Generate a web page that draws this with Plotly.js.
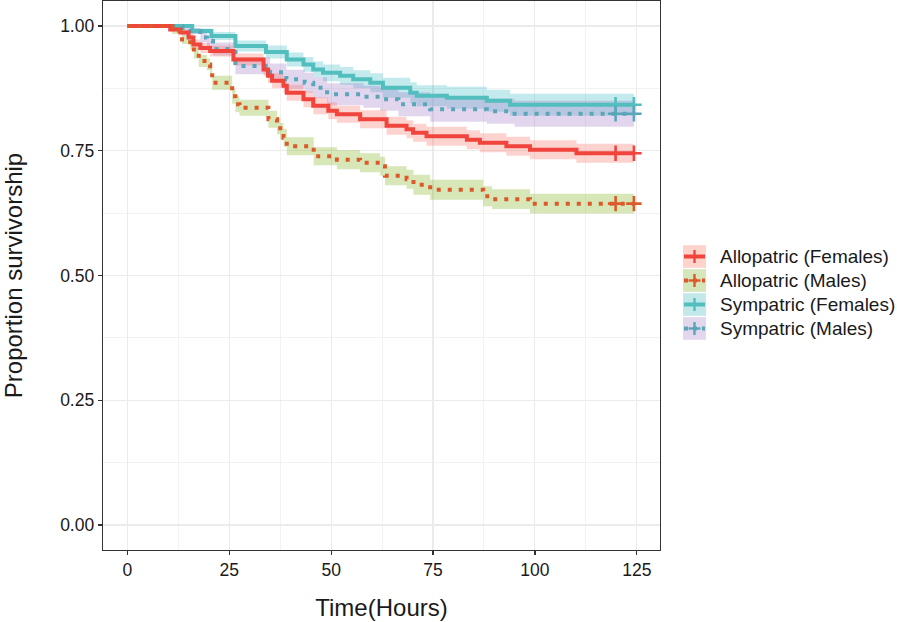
<!DOCTYPE html>
<html>
<head>
<meta charset="utf-8">
<script src="https://cdn.plot.ly/plotly-3.0.1.min.js"></script>
<style>html,body{margin:0;padding:0;background:#fff}#chart{width:897px;height:622px}</style>
</head>
<body>
<div id="chart"></div>
<script>
// ---------- data ----------
const seriesNames = ["Allopatric (Females)", "Allopatric (Males)", "Sympatric (Females)", "Sympatric (Males)"];

const timeAF  = [0, 10.5, 13.0, 15.0, 16.2, 17.9, 20.3, 26.0, 33.4, 34.5, 35.5, 38.3, 39.1, 43.2, 45.6, 49.3, 51.4, 57.1, 63.6, 68.5, 70.1, 73.4, 83.3, 86.5, 93.0, 98.8, 110.2, 124.3];
const survAF  = [1, .993, .987, .977, .963, .956, .950, .933, .913, .900, .890, .880, .866, .853, .840, .830, .823, .813, .800, .793, .786, .779, .772, .766, .759, .752, .745, .745];
const upperAF = [1, .997, .993, .985, .973, .966, .961, .945, .926, .914, .905, .895, .882, .869, .857, .847, .840, .831, .818, .811, .804, .798, .791, .785, .778, .771, .764, .764];
const lowerAF = [1, .989, .981, .969, .953, .946, .939, .921, .900, .886, .875, .865, .850, .837, .823, .813, .806, .795, .782, .775, .768, .760, .753, .747, .740, .733, .726, .726];

const timeAM  = [0, 11.0, 13.4, 15.4, 16.3, 17.5, 19.5, 20.3, 20.8, 25.7, 26.5, 27.5, 34.6, 36.7, 37.5, 38.3, 39.1, 45.7, 51.4, 57.1, 62.0, 63.2, 68.5, 70.2, 74.3, 87.3, 89.5, 98.8, 124.3];
const survAM  = [1, .990, .973, .963, .946, .930, .923, .910, .886, .859, .843, .836, .813, .800, .789, .776, .759, .739, .732, .726, .719, .700, .693, .682, .672, .659, .653, .644, .644];
const upperAM = [1, .996, .982, .973, .957, .942, .935, .923, .900, .874, .859, .852, .830, .817, .806, .794, .777, .757, .751, .745, .738, .719, .712, .702, .692, .679, .673, .664, .664];
const lowerAM = [1, .984, .964, .953, .935, .918, .911, .897, .872, .844, .827, .820, .796, .783, .772, .758, .741, .721, .713, .707, .700, .681, .674, .662, .652, .639, .633, .624, .624];

const timeSF  = [0, 15.9, 20.6, 26.5, 34.0, 39.1, 43.2, 45.6, 48.0, 52.2, 55.4, 59.6, 62.7, 69.4, 71.0, 78.4, 88.2, 93.9, 124.3];
const survSF  = [1, .990, .980, .960, .948, .933, .923, .913, .906, .900, .893, .886, .876, .866, .860, .856, .850, .842, .842];
const upperSF = [1, .995, .988, .971, .961, .947, .938, .929, .923, .918, .911, .905, .896, .887, .881, .878, .872, .864, .864];
const lowerSF = [1, .985, .972, .949, .935, .919, .908, .897, .889, .882, .875, .867, .856, .845, .839, .834, .828, .820, .820];

const timeSM  = [0, 13.5, 17.9, 19.5, 21.0, 26.5, 35.0, 39.0, 43.5, 45.6, 49.0, 57.9, 62.0, 66.5, 74.3, 88.2, 95.0, 124.3];
const survSM  = [1, .990, .977, .970, .954, .920, .907, .893, .886, .876, .863, .858, .853, .843, .833, .829, .824, .824];
const upperSM = [1, .996, .987, .981, .967, .937, .925, .912, .906, .897, .885, .880, .876, .867, .858, .854, .850, .850];
const lowerSM = [1, .984, .967, .959, .941, .903, .889, .874, .866, .855, .841, .836, .830, .819, .808, .804, .798, .798];

const censorTimes = [119.8, 124.3];
const censorAF = [.745, .745];
const censorAM = [.644, .644];
const censorSF = [.842, .842];
const censorSM = [.824, .824];

const xTickVals = [0, 25, 50, 75, 100, 125];
const xMinorVals = [12.5, 37.5, 62.5, 87.5, 112.5];
const yTickVals = [0, 0.25, 0.5, 0.75, 1];
const yTickText = ["0.00", "0.25", "0.50", "0.75", "1.00"];
const yMinorVals = [0.125, 0.375, 0.625, 0.875];

// ---------- styles ----------
const FONT = "Liberation Sans, Arial, Helvetica, sans-serif";
const groups = [
  {name: seriesNames[0], t: timeAF, s: survAF, up: upperAF, lo: lowerAF, cs: censorAF, line: "#F0443C", dash: "solid", w: 4, band: "rgba(248,118,109,0.32)", key: "#FDD3CC"},
  {name: seriesNames[1], t: timeAM, s: survAM, up: upperAM, lo: lowerAM, cs: censorAM, line: "#DC5A2A", dash: "4px,7px", w: 4, band: "rgba(124,174,20,0.30)", key: "#D6E6BB"},
  {name: seriesNames[2], t: timeSF, s: survSF, up: upperSF, lo: lowerSF, cs: censorSF, line: "#52BEBE", dash: "solid", w: 4, band: "rgba(40,178,188,0.28)", key: "#C3E8EA"},
  {name: seriesNames[3], t: timeSM, s: survSM, up: upperSM, lo: lowerSM, cs: censorSM, line: "#5AA6B8", dash: "4px,7px", w: 4, band: "rgba(160,120,200,0.30)", key: "#E3D7EE"}
];

const traces = [];
// bands
[2, 3, 0, 1].forEach(i => {
  const g = groups[i];
  traces.push({x: g.t, y: g.up, type: "scatter", mode: "lines", line: {width: 0, shape: "hv"}, showlegend: false, hoverinfo: "skip"});
  traces.push({x: g.t, y: g.lo, type: "scatter", mode: "lines", line: {width: 0, shape: "hv"}, fill: "tonexty", fillcolor: g.band, showlegend: false, hoverinfo: "skip"});
});
// lines + censor marks
[2, 3, 0, 1].forEach(i => {
  const g = groups[i];
  traces.push({x: g.t, y: g.s, type: "scatter", mode: "lines", name: g.name, line: {color: g.line, width: g.w, shape: "hv", dash: g.dash}, showlegend: false});
  traces.push({x: censorTimes, y: g.cs, type: "scatter", mode: "markers", showlegend: false, hoverinfo: "skip",
    marker: {symbol: "cross-thin", size: 11, color: g.line, line: {color: g.line, width: 2.6}}});
});

// ---------- custom legend (pixel positions -> paper) ----------
const L = 103, R = 237, T = 1, B = 72, W = 897, H = 622;
const pw = W - L - R, ph = H - T - B;
const px = v => (v - L) / pw;
const py = v => (H - B - v) / ph;
const shapes = [], annotations = [];
const keyX0 = 683, keyX1 = 706, keyCx = 694.5;
groups.forEach((g, i) => {
  const cy = 256.5 + i * 24;
  shapes.push({type: "rect", xref: "paper", yref: "paper", x0: px(keyX0), x1: px(keyX1), y0: py(cy - 11.3), y1: py(cy + 11.3), fillcolor: g.key, line: {width: 0}, layer: "above"});
  shapes.push({type: "line", xref: "paper", yref: "paper", x0: px(keyX0 + 1), x1: px(keyX1 - 1), y0: py(cy), y1: py(cy), line: {color: g.line, width: g.w, dash: g.dash === "solid" ? "solid" : "4px,5px"}, layer: "above"});
  shapes.push({type: "line", xref: "paper", yref: "paper", x0: px(keyCx), x1: px(keyCx), y0: py(cy - 6.5), y1: py(cy + 6.5), line: {color: g.line, width: 2.4}, layer: "above"});
  shapes.push({type: "line", xref: "paper", yref: "paper", x0: px(keyCx - 6), x1: px(keyCx + 6), y0: py(cy), y1: py(cy), line: {color: g.line, width: 2.4}, layer: "above"});
  annotations.push({xref: "paper", yref: "paper", x: px(718), y: py(cy), xanchor: "left", yanchor: "middle", showarrow: false, text: g.name, font: {family: FONT, size: 19, color: "#1a1a1a"}});
});

const axisCommon = {
  showline: true, mirror: true, linecolor: "#333333", linewidth: 1.3,
  ticks: "outside", ticklen: 4, tickwidth: 1.2, tickcolor: "#333333",
  tickfont: {family: FONT, size: 17.5, color: "#1a1a1a"},
  showgrid: true, gridcolor: "#EBEBEB", gridwidth: 1.1, zeroline: false
};

const layout = {
  width: W, height: H,
  margin: {l: L, r: R, t: T, b: B},
  paper_bgcolor: "#ffffff", plot_bgcolor: "#ffffff",
  font: {family: FONT, color: "#1a1a1a"},
  showlegend: false,
  xaxis: Object.assign({}, axisCommon, {
    range: [-6.0, 130.7], tickmode: "array", tickvals: xTickVals,
    minor: {tickmode: "array", tickvals: xMinorVals, showgrid: true, gridcolor: "#F2F2F2", gridwidth: 1, ticks: ""},
    title: {text: "Time(Hours)", font: {family: FONT, size: 24, color: "#1a1a1a"}, standoff: 20}
  }),
  yaxis: Object.assign({}, axisCommon, {
    range: [-0.05, 1.05], tickmode: "array", tickvals: yTickVals, ticktext: yTickText,
    minor: {tickmode: "array", tickvals: yMinorVals, showgrid: true, gridcolor: "#F2F2F2", gridwidth: 1, ticks: ""},
    title: {text: "Proportion survivorship", font: {family: FONT, size: 24, color: "#1a1a1a"}, standoff: 30}
  }),
  shapes: shapes,
  annotations: annotations
};

Plotly.newPlot("chart", traces, layout, {displayModeBar: false, staticPlot: true});
</script>
</body>
</html>
